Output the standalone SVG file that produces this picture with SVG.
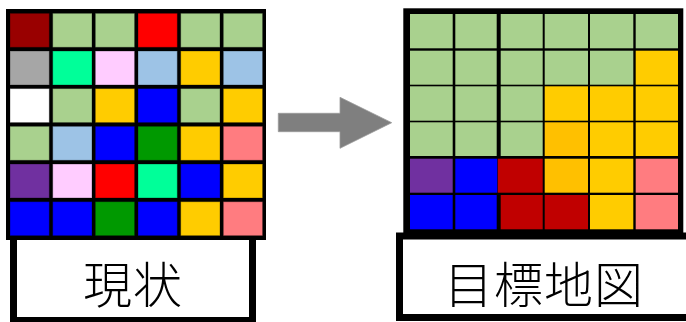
<svg xmlns="http://www.w3.org/2000/svg" width="686" height="322" viewBox="0 0 686 322">
<style>
.frame{fill:#000}
.box{fill:#fff;stroke:#000;stroke-width:7}
.lc{stroke:#000;stroke-opacity:0.3;stroke-width:1}
.lbl{font-family:"Noto Sans CJK JP","Noto Sans CJK SC",sans-serif;font-size:49px;font-weight:300;fill:#000;text-anchor:middle;letter-spacing:1px}
.g{fill:#A9D18E}.y{fill:#FFCC00}.o{fill:#FFC000}.b{fill:#0000FF}.r{fill:#FF0000}.dr{fill:#990000}.cr{fill:#C00000}
.gr{fill:#A6A6A6}.m{fill:#00FF99}.pk{fill:#FFCCFF}.lb{fill:#9DC3E6}.w{fill:#FFFFFF}.dg{fill:#009900}.s{fill:#FF7C80}.p{fill:#7030A0}
</style>
<g id="current-label">
<rect class="box" x="13.5" y="236.5" width="239" height="84"/>
<text class="lbl" x="133" y="303">現状</text>
</g>
<g id="current-map">
<rect class="frame" x="6" y="9" width="260" height="231"/>
<g class="lc">
<rect class="dr" x="10" y="13.3" width="39.3" height="34"/>
<rect class="g" x="52.7" y="13.3" width="39.3" height="34"/>
<rect class="g" x="95.3" y="13.3" width="39.3" height="34"/>
<rect class="r" x="138" y="13.3" width="39.3" height="34"/>
<rect class="g" x="180.7" y="13.3" width="39.3" height="34"/>
<rect class="g" x="223.3" y="13.3" width="39.3" height="34"/>
<rect class="gr" x="10" y="51" width="39.3" height="34"/>
<rect class="m" x="52.7" y="51" width="39.3" height="34"/>
<rect class="pk" x="95.3" y="51" width="39.3" height="34"/>
<rect class="lb" x="138" y="51" width="39.3" height="34"/>
<rect class="y" x="180.7" y="51" width="39.3" height="34"/>
<rect class="lb" x="223.3" y="51" width="39.3" height="34"/>
<rect class="w" x="10" y="88.6" width="39.3" height="34"/>
<rect class="g" x="52.7" y="88.6" width="39.3" height="34"/>
<rect class="y" x="95.3" y="88.6" width="39.3" height="34"/>
<rect class="b" x="138" y="88.6" width="39.3" height="34"/>
<rect class="g" x="180.7" y="88.6" width="39.3" height="34"/>
<rect class="y" x="223.3" y="88.6" width="39.3" height="34"/>
<rect class="g" x="10" y="126.3" width="39.3" height="34"/>
<rect class="lb" x="52.7" y="126.3" width="39.3" height="34"/>
<rect class="b" x="95.3" y="126.3" width="39.3" height="34"/>
<rect class="dg" x="138" y="126.3" width="39.3" height="34"/>
<rect class="y" x="180.7" y="126.3" width="39.3" height="34"/>
<rect class="s" x="223.3" y="126.3" width="39.3" height="34"/>
<rect class="p" x="10" y="164" width="39.3" height="34"/>
<rect class="pk" x="52.7" y="164" width="39.3" height="34"/>
<rect class="r" x="95.3" y="164" width="39.3" height="34"/>
<rect class="m" x="138" y="164" width="39.3" height="34"/>
<rect class="b" x="180.7" y="164" width="39.3" height="34"/>
<rect class="y" x="223.3" y="164" width="39.3" height="34"/>
<rect class="b" x="10" y="201.7" width="39.3" height="34"/>
<rect class="b" x="52.7" y="201.7" width="39.3" height="34"/>
<rect class="dg" x="95.3" y="201.7" width="39.3" height="34"/>
<rect class="b" x="138" y="201.7" width="39.3" height="34"/>
<rect class="y" x="180.7" y="201.7" width="39.3" height="34"/>
<rect class="s" x="223.3" y="201.7" width="39.3" height="34"/>
</g>
</g>
<g id="connectors">
<polygon points="278.3,113.3 340,113.3 340,97.3 391.7,122.7 340,148.3 340,131.7 278.3,131.7" fill="#7F7F7F" stroke="#999" stroke-width="0.8"/>
</g>
<g id="target-label">
<rect class="box" x="399.5" y="236" width="400" height="81.5"/>
<text class="lbl" x="544" y="303">目標地図</text>
</g>
<g id="target-map">
<rect class="frame" x="403.3" y="8.3" width="280" height="228"/>
<rect class="g" x="410" y="14" width="42.7" height="34.3"/>
<rect class="g" x="455.3" y="14" width="41.4" height="34.3"/>
<rect class="g" x="500.7" y="14" width="42" height="34.3"/>
<rect class="g" x="544.7" y="14" width="43.3" height="34.3"/>
<rect class="g" x="590" y="14" width="43.3" height="34.3"/>
<rect class="g" x="635.7" y="14" width="42.3" height="34.3"/>
<rect class="g" x="410" y="50.7" width="42.7" height="34"/>
<rect class="g" x="455.3" y="50.7" width="41.4" height="34"/>
<rect class="g" x="500.7" y="50.7" width="42" height="34"/>
<rect class="g" x="544.7" y="50.7" width="43.3" height="34"/>
<rect class="g" x="590" y="50.7" width="43.3" height="34"/>
<rect class="y" x="635.7" y="50.7" width="42.3" height="34"/>
<rect class="g" x="410" y="86.3" width="42.7" height="34.4"/>
<rect class="g" x="455.3" y="86.3" width="41.4" height="34.4"/>
<rect class="g" x="500.7" y="86.3" width="42" height="34.4"/>
<rect class="y" x="544.7" y="86.3" width="43.3" height="34.4"/>
<rect class="y" x="590" y="86.3" width="43.3" height="34.4"/>
<rect class="y" x="635.7" y="86.3" width="42.3" height="34.4"/>
<rect class="g" x="410" y="122.3" width="42.7" height="33.7"/>
<rect class="g" x="455.3" y="122.3" width="41.4" height="33.7"/>
<rect class="g" x="500.7" y="122.3" width="42" height="33.7"/>
<rect class="o" x="544.7" y="122.3" width="43.3" height="33.7"/>
<rect class="y" x="590" y="122.3" width="43.3" height="33.7"/>
<rect class="y" x="635.7" y="122.3" width="42.3" height="33.7"/>
<rect class="p" x="410" y="158.7" width="42.7" height="34"/>
<rect class="b" x="455.3" y="158.7" width="42" height="34"/>
<rect class="cr" x="497.8" y="158.7" width="44.9" height="34"/>
<rect class="o" x="544.7" y="158.7" width="43.3" height="34"/>
<rect class="y" x="590" y="158.7" width="43.3" height="34"/>
<rect class="s" x="635.7" y="158.7" width="42.3" height="34"/>
<rect class="b" x="410" y="195" width="42.7" height="34.3"/>
<rect class="b" x="455.3" y="195" width="41.4" height="34.3"/>
<rect class="cr" x="500.7" y="195" width="42" height="34.3"/>
<rect class="cr" x="544.7" y="195" width="43.3" height="34.3"/>
<rect class="y" x="590" y="195" width="43.3" height="34.3"/>
<rect class="s" x="635.7" y="195" width="42.3" height="34.3"/>
</g>
</svg>
